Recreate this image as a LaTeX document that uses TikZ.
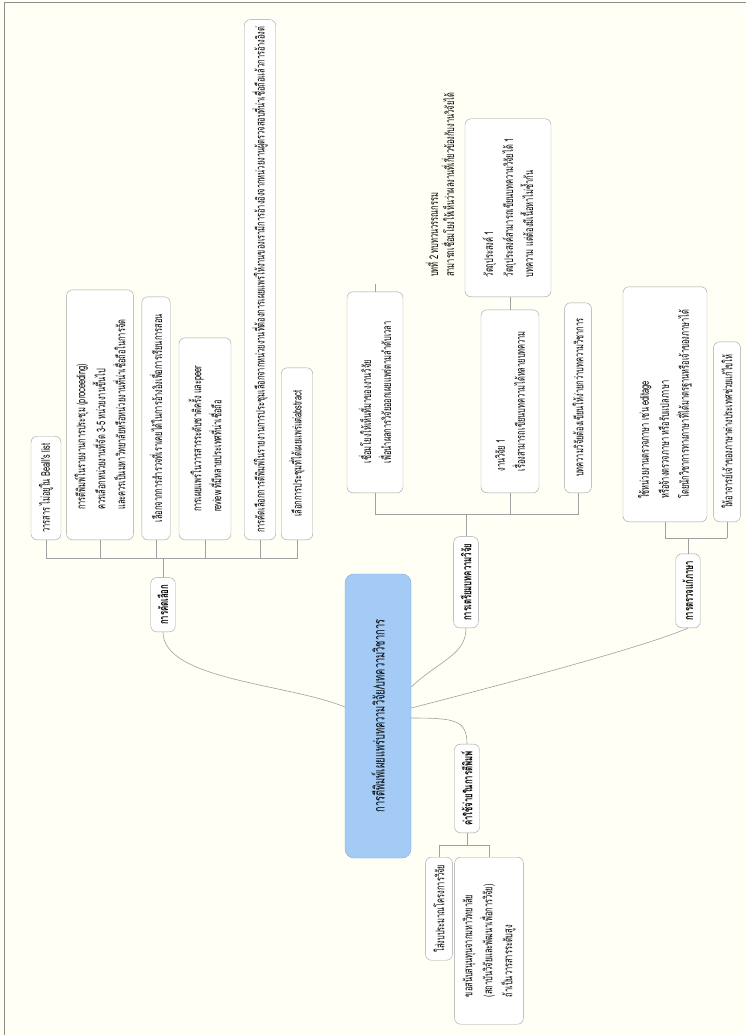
\documentclass[tikz,border=0pt]{standalone}
\usepackage{fontspec}
\usetikzlibrary{calc}
\newfontfamily\thai[Script=Thai, FakeStretch=0.62]{Loma}
\definecolor{paper}{HTML}{FFFFF6}
\definecolor{framegray}{HTML}{8C8C8C}
\definecolor{boxline}{HTML}{A0A0A0}
\definecolor{rootblue}{HTML}{A3CBF6}
\definecolor{rootline}{HTML}{7FA8D8}
\begin{document}
\begin{tikzpicture}[x=1pt, y=-1pt,
    box/.style={draw=boxline, fill=white, rounded corners=6pt, rotate=90, align=left,
      inner xsep=7pt, inner ysep=8pt, font=\thai\fontsize{12}{20}\selectfont},
    bare/.style={box, draw=none, fill=none, font=\thai\fontsize{12}{16}\selectfont},
    head/.style={box, inner ysep=7pt, font=\thai\bfseries\fontsize{12.5}{16}\selectfont},
    root/.style={box, draw=rootline, fill=rootblue, rounded corners=9pt,
      font=\thai\fontsize{15}{18}\selectfont, minimum width=284pt, minimum height=66pt},
    link/.style={draw=boxline, line width=0.6pt}]

    % Paper and frame
    \useasboundingbox (0,0) rectangle (746,1035);
    \fill[paper] (0,0) rectangle (746,1035);
    \draw[framegray, line width=1pt] (4,1035) -- (4,3) -- (746,3);

    % Central topic
    \node[root] (centre) at (378,716) {การตีพิมพ์เผยแพร่บทความวิจัย/บทความวิชาการ};

    % Main topics
    \node[head, anchor=west] (select) at (163,632) {การคัดเลือก};
    \node[head, anchor=west] (prepare) at (466,628) {การเตรียมบทความวิจัย};
    \node[head, anchor=west] (edit) at (688,628) {การตรวจแก้ภาษา};
    \node[head, anchor=west] (cost) at (467,833) {ค่าใช้จ่ายในการตีพิมพ์};

    % Draw curves from the centre
    \draw[link] ([yshift=9pt]centre.north) .. controls (290,684) and (163,680) .. (select.west);
    \draw[link] ([yshift=29pt]centre.south) .. controls (440,660) and (466,655) .. (prepare.west);
    \draw[link] ([yshift=8pt]centre.south) .. controls (520,680) and (650,645) .. (edit.west);
    \draw[link] ([yshift=-2pt]centre.south) .. controls (455,718) and (467,720) .. (cost.east);

    % Children of the selection topic
    \node[box, anchor=west] (sel1) at (46,540) {วารสาร ไม่อยู่ใน Beall's list};
    \node[box, anchor=west, minimum width=250pt] (sel2) at (100,540) {การตีพิมพ์ในรายงานการประชุม (proceeding)\\
      ควรเลือกหน่วยงานที่จัด 3-5 หน่วยงานขึ้นไป\\
      และควรเป็นมหาวิทยาลัยหรือหน่วยงานที่น่าเชื่อถือในการจัด};
    \node[box, anchor=west, minimum width=243pt] (sel3) at (156,540) {เลือกจากการสำรวจที่เราเคยได้ในการอ้างอิงเพื่อการเรียนการสอน};
    \node[box, anchor=west, minimum width=202pt, minimum height=52pt] (sel4) at (205,540) {การเผยแพร่ในวารสารระดับชาติครั้ง และpeer\\
      review ที่มีหลายประเทศที่น่าเชื่อถือ};
    \node[box, anchor=west] (sel5) at (260,540) {การคัดเลือกการตีพิมพ์ในรายงานการประชุมเลือกจากหน่วยงานที่ต้องการเผยแพร่ให้งานของเรามีการอ้างอิงจากหน่วยงานผู้ตรวจสอบที่น่าเชื่อถือแล้วการอ้างอิงต่};
    \node[box, anchor=west, minimum width=172pt] (sel6) at (297,540) {เลือกการประชุมที่ได้เผยแพร่แต่abstract};

    \coordinate (selfork) at ($(select.east)!0.5!(select.east |- sel1.west)$);
    \draw[link] (select.east) -- (selfork);
    \draw[link] (sel1.west |- selfork) -- (sel6.west |- selfork);
    \foreach \n in {1,...,6}
        \draw[link] (sel\n.west) -- (sel\n.west |- selfork);

    % Children of the preparation topic
    \node[box, anchor=west, minimum width=201pt, minimum height=56pt] (prep1) at (375,493) {เชื่อมโยงให้เห็นที่มาของงานวิจัย\\
      เพื่อนำผลการวิจัยออกเผยแพร่ตามลำดับเวลา};
    \node[bare, anchor=west] (prep2) at (440,284) {บทที่ 2 ทบทวนวรรณกรรม\\
      สามารถเชื่อมโยงให้เห็นว่าผลงานที่เกี่ยวข้องกับงานวิจัยได้};
    \node[box, anchor=west, minimum width=183pt, minimum height=58pt] (prep4) at (510,493) {งานวิจัย 1\\
      เรื่องสามารถเขียนบทความได้หลายบทความ};
    \node[box, anchor=west, minimum width=178pt, minimum height=86pt] (prep3) at (508,297) {วัตถุประสงค์ 1\\
      วัตถุประสงค์สามารถเขียนบทความวิจัยได้ 1\\
      บทความ แต่ต้องมีเนื้อหาไม่ซ้ำกัน};
    \node[box, anchor=west, minimum width=190pt] (prep5) at (578,493) {บทความวิจัยต้องเขียนให้ง่ายกว่าบทความวิชาการ};

    \coordinate (prepfork) at ($(prepare.east)!0.5!(prepare.east |- prep1.west)$);
    \draw[link] (prepare.east) -- (prepfork);
    \draw[link] (prep1.west |- prepfork) -- (prep5.west |- prepfork);
    \foreach \n in {1,4,5}
        \draw[link] (prep\n.west) -- (prep\n.west |- prepfork);
    \draw[link] (prep1.east) -- (prep1.east |- prep2.west);
    \draw[link] (prep4.east) -- (prep4.east |- prep3.west);

    % Children of the language topic
    \node[box, anchor=west, minimum width=235pt, minimum height=84pt] (edit1) at (665,522) {ใช้หน่วยงานตรวจภาษา เช่น editage\\
      หรือจ้างตรวจภาษา หรือรับแปลภาษา\\
      โดยนักวิชาการทางภาษาที่ได้มาตรฐานหรือเจ้าของภาษาได้};
    \node[box, anchor=west, minimum width=180pt] (edit2) at (727,522) {ให้อาจารย์เจ้าของภาษาต่างประเทศช่วยแก้ไขให้};

    \coordinate (editfork) at ($(edit.east)!0.5!(edit.east |- edit1.west)$);
    \draw[link] (edit.east) -- (editfork);
    \draw[link] (edit1.west |- editfork) -- (edit2.west |- editfork);
    \foreach \n in {1,2}
        \draw[link] (edit\n.west) -- (edit\n.west |- editfork);

    % Children of the cost topic
    \node[box, anchor=east, minimum width=103pt] (cost1) at (439,857) {ใส่งบประมาณโครงการวิจัย};
    \node[box, anchor=east, minimum width=167pt] (cost2) at (489,857) {ขอสนับสนุนทุนจากมหาวิทยาลัย\\
      (สถาบันวิจัยและพัฒนาเพื่อการวิจัย)\\
      ถ้าเป็นวารสารระดับสูง};

    \coordinate (costfork) at ($(cost.west)!0.5!(cost.west |- cost1.east)$);
    \draw[link] (cost.west) -- (costfork);
    \draw[link] (cost1.east |- costfork) -- (cost2.east |- costfork);
    \foreach \n in {1,2}
        \draw[link] (cost\n.east) -- (cost\n.east |- costfork);
\end{tikzpicture}
\end{document}
